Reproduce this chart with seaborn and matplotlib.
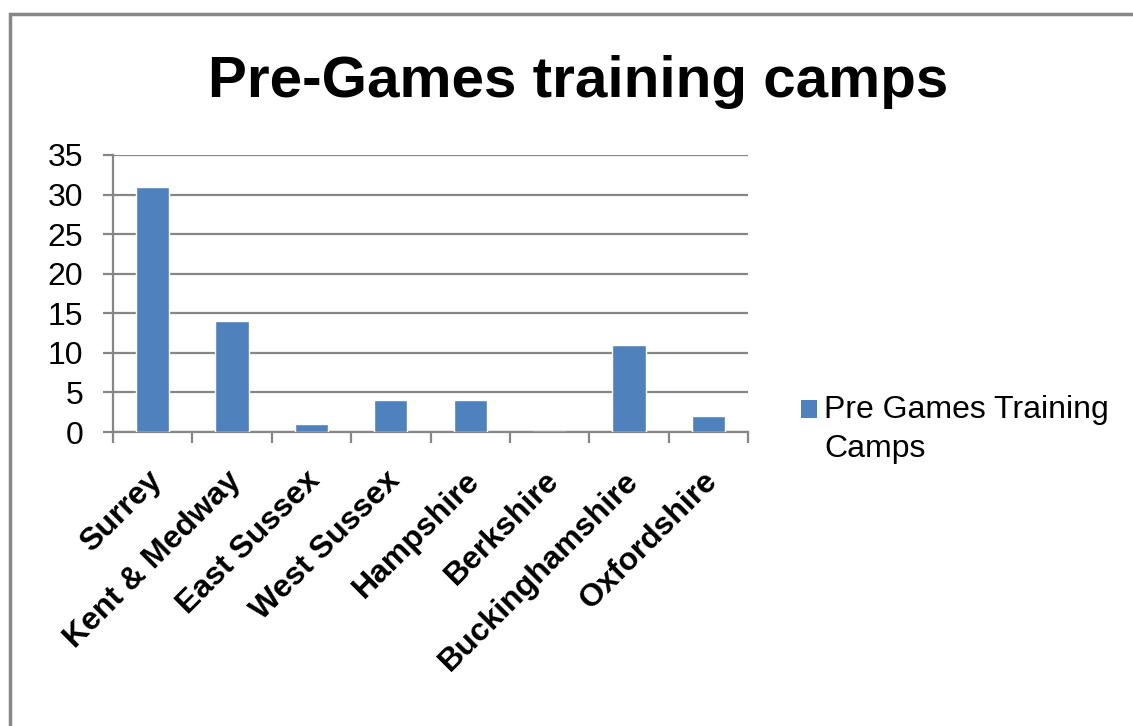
import matplotlib
matplotlib.use("Agg")
import matplotlib.pyplot as plt
import matplotlib.transforms as mtransforms
import seaborn as sns
import pandas as pd
from matplotlib.patches import Rectangle, Patch
from matplotlib.legend_handler import HandlerPatch

categories = ["Surrey", "Kent & Medway", "East Sussex", "West Sussex",
              "Hampshire", "Berkshire", "Buckinghamshire", "Oxfordshire"]
values = [31, 14, 1, 4, 4, 0, 11, 2]
series_name = "Pre Games Training Camps"
yticks = [0, 5, 10, 15, 20, 25, 30, 35]

df = pd.DataFrame({"region": categories, "camps": values})

sns.set_theme(style="white")
plt.rcParams["font.family"] = ["Liberation Sans", "DejaVu Sans"]
plt.rcParams["text.color"] = "black"
plt.rcParams["xtick.labelcolor"] = "black"
plt.rcParams["ytick.labelcolor"] = "black"

W, H = 1133, 726
fig = plt.figure(figsize=(W / 100, H / 100), dpi=100)
fig.patch.set_facecolor("white")
ax = fig.add_axes([113 / W, 1 - 432 / H, (748 - 113) / W, (432 - 155) / H])

bar_color = "#4F81BD"
sns.barplot(data=df, x="region", y="camps", color=bar_color, width=0.42,
            saturation=1, ax=ax, zorder=3)

ax.set_ylim(0, 35)
ax.set_xlim(-0.5, len(categories) - 0.5)
ax.set_yticks(yticks)
ax.set_yticklabels([str(t) for t in yticks], fontsize=23, color="black")
ax.set_xlabel("")
ax.set_ylabel("")

grid_c = "#868686"
ax.yaxis.grid(True, color=grid_c, linewidth=1.6, zorder=0)
ax.set_axisbelow(True)
for s in ["top", "right"]:
    ax.spines[s].set_visible(False)
ax.spines["left"].set_color(grid_c)
ax.spines["left"].set_linewidth(1.6)
ax.spines["bottom"].set_color(grid_c)
ax.spines["bottom"].set_linewidth(1.6)

ax.tick_params(axis="y", which="major", direction="out", length=7.5, width=1.6,
               color=grid_c, left=True, pad=14)
ax.set_xticks(range(len(categories)))
ax.set_xticklabels(categories, rotation=45, ha="right", rotation_mode="anchor",
                   fontsize=23, fontweight="bold", color="black")
ax.tick_params(axis="x", which="major", length=0, pad=22)
shift = mtransforms.ScaledTranslation(-6 / 100, -3 / 100, fig.dpi_scale_trans)
for lbl in ax.get_xticklabels():
    lbl.set_transform(lbl.get_transform() + shift)
ax.set_xticks([i - 0.5 for i in range(len(categories) + 1)], minor=True)
ax.tick_params(axis="x", which="minor", direction="out", length=8, width=1.6,
               color=grid_c, bottom=True)

fig.text(578 / W, 1 - 82 / H, "Pre-Games training camps", ha="center",
         va="center", fontsize=42, fontweight="bold", color="black")


class TopAlignedHandler(HandlerPatch):
    def create_artists(self, legend, orig_handle, xdescent, ydescent, width,
                       height, fontsize, trans):
        p = Rectangle((-xdescent, -ydescent + 15), width, height,
                      facecolor=orig_handle.get_facecolor(), edgecolor="none",
                      transform=trans)
        return [p]


handle = Patch(facecolor=bar_color, edgecolor="none")
leg = fig.legend([handle], ["Pre Games Training\nCamps"],
                 loc="upper left", bbox_to_anchor=(801 / W, 1 - 395 / H),
                 frameon=False, fontsize=23, handlelength=0.5, handleheight=0.52,
                 handletextpad=0.22, borderaxespad=0, borderpad=0,
                 handler_map={Patch: TopAlignedHandler()})
for t in leg.get_texts():
    t.set_linespacing(1.4)
    t.set_color("black")

fig.patches.append(Rectangle((10.5 / W, -0.1), 1.2, 1 - 13.5 / H + 0.1,
                             transform=fig.transFigure, fill=False,
                             edgecolor="#878787", linewidth=2.5, zorder=10))

fig.savefig("out.png", dpi=100, facecolor="white")
